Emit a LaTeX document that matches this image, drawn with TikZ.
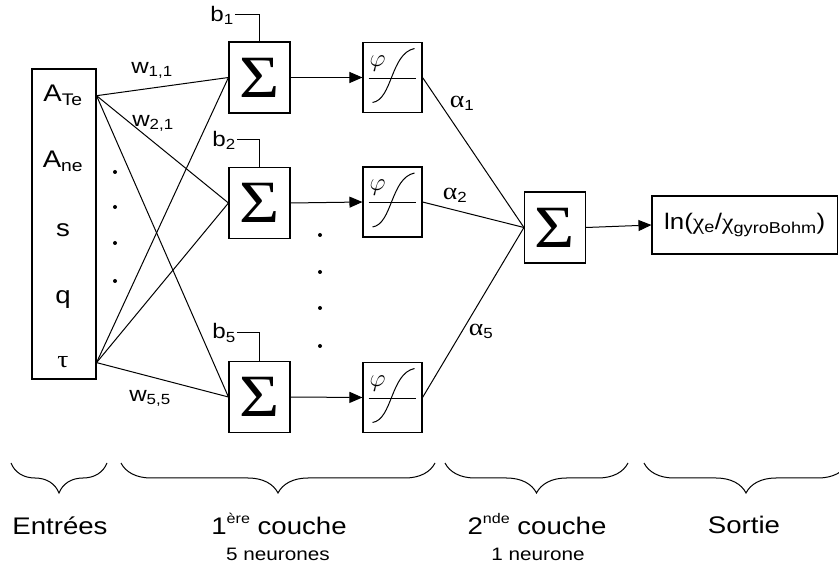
\documentclass[tikz,border=0pt]{standalone}
\usepackage{fontspec}
\setmainfont{Liberation Sans}[FakeStretch=1.15]
\newfontfamily\grec{Liberation Serif}[FakeStretch=1.15]
\usetikzlibrary{arrows.meta, decorations.pathreplacing}
\newcommand{\expo}[1]{\raisebox{0.45em}{\fontsize{14}{14}\selectfont #1}}

\begin{document}
\begin{tikzpicture}[x=1pt, y=-1pt,
    boite/.style={draw, line width=1.1pt, inner sep=0pt},
    somme/.style={boite, minimum width=61pt, minimum height=71pt, font=\grec\fontsize{60}{60}\selectfont},
    activ/.style={boite, minimum width=59pt, minimum height=70pt,
        path picture={
            \begin{scope}[shift={(path picture bounding box.center)}, line width=1pt]
                \draw (-24,1) -- (23,1);
                \draw (-20,25) .. controls (0,22) and (-2,-24) .. (22,-29);
                \node[font=\fontsize{24}{24}\selectfont, inner sep=0pt] at (-15,-14) {$\varphi$};
            \end{scope}}},
    lien/.style={line width=1pt},
    fleche/.style={lien, -{Triangle[length=13pt, width=11pt]}},
    etiq/.style={font=\fontsize{21}{21}\selectfont, inner sep=1pt},
    grand/.style={font=\fontsize{24}{24}\selectfont, anchor=base, inner sep=1pt},
    petit/.style={font=\fontsize{18}{18}\selectfont, anchor=base},
    accolade/.style={line width=1pt, decorate, decoration={brace, mirror, amplitude=30pt}}]

    \useasboundingbox (0,0) rectangle (839,569);

    % Entrees
    \node[boite, minimum width=64pt, minimum height=310pt] (entree) at (64,224) {};
    \node[grand] (ate) at (63,102) {A\textsubscript{Te}};
    \node[grand] (ane) at (63,168) {A\textsubscript{ne}};
    \node[grand] (s) at (63,237) {s};
    \node[grand] (q) at (63,304) {q};
    \node[grand, font=\grec\fontsize{24}{24}\selectfont] (tau) at (63,368) {τ};
    \foreach \y in {172,207,243,281}
        \fill (115,\y) circle (2pt);

    % Premiere couche
    \node[somme] (som1) at (259.5,77.5) {Σ};
    \node[somme] (som2) at (259.5,203) {Σ};
    \node[somme] (som5) at (259.5,397) {Σ};
    \node[activ] (phi1) at (392.5,77.5) {};
    \node[activ] (phi2) at (392.5,202) {};
    \node[activ] (phi5) at (392.5,397.5) {};
    \foreach \y in {235,272,308,346}
        \fill (320,\y) circle (2pt);

    % Biais
    \node[etiq] (b1) at (222,15) {b\textsubscript{1}};
    \node[etiq] (b2) at (224,140) {b\textsubscript{2}};
    \node[etiq] (b5) at (224,333) {b\textsubscript{5}};
    \foreach \i in {1,2,5}
        \draw[lien] (b\i.east) -| (som\i.north);

    % Poids
    \foreach \i in {1,2,5} {
        \draw[lien] (ate -| entree.east) -- (som\i.west);
        \draw[lien] (tau -| entree.east) -- (som\i.west);
        \draw[fleche] (som\i.east) -- (phi\i.west);
    }
    \node[etiq] (w11) at (152,70) {w\textsubscript{1,1}};
    \node[etiq] (w21) at (153,123) {w\textsubscript{2,1}};
    \node[etiq] (w55) at (150,398) {w\textsubscript{5,5}};

    % Seconde couche et sortie
    \node[somme] (somout) at (555,227.5) {Σ};
    \node[boite, minimum width=185.5pt, minimum height=58pt, font=\fontsize{22.5}{22.5}\selectfont] (sortie) at (744.75,225)
        {ln({\grec χ}\textsubscript{e}/{\grec χ}\textsubscript{gyroBohm})};
    \foreach \i in {1,2,5}
        \draw[lien] (phi\i.east) -- (somout.west);
    \draw[fleche] (somout.east) -- (sortie.west);
    \node[etiq] (a1) at (462,103) {{\grec\fontsize{24}{24}\selectfont α}\textsubscript{1}};
    \node[etiq] (a2) at (455,195) {{\grec\fontsize{24}{24}\selectfont α}\textsubscript{2}};
    \node[etiq] (a5) at (481,331) {{\grec\fontsize{24}{24}\selectfont α}\textsubscript{5}};

    % Accolades et legende
    \draw[accolade] (11,463) -- (107,463);
    \draw[accolade] (121,463) -- (435,463);
    \draw[accolade] (445,463) -- (628,463);
    \draw[accolade] (644,463) -- (848,463);
    \node[grand] (lent) at (60,534) {Entrées};
    \node[grand] (lc1) at (279,534) {1\expo{ère} couche};
    \node[petit] (ln1) at (278,560) {5 neurones};
    \node[grand] (lc2) at (537,534) {2\expo{nde} couche};
    \node[petit] (ln2) at (538,560) {1 neurone};
    \node[grand] (lsor) at (744,533) {Sortie};
\end{tikzpicture}
\end{document}
